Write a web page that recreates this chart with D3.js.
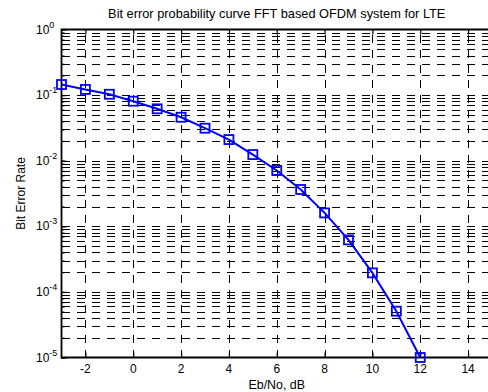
<!DOCTYPE html>
<html>
<head>
<meta charset="utf-8">
<script src="https://cdn.jsdelivr.net/npm/d3@7"></script>
<style>
  body { margin: 0; background: #fff; }
  svg { display: block; font-family: "Liberation Sans", Arial, sans-serif; }
</style>
</head>
<body>
<div id="chart"></div>
<script>
// data
var ebno = [-3, -2, -1, 0, 1, 2, 3, 4, 5, 6, 7, 8, 9, 10, 11, 12];
var ber = [0.145, 0.122, 0.103, 0.0807, 0.0618, 0.046, 0.0313, 0.021, 0.0124,
           0.0071, 0.00364, 0.0016, 0.00062, 0.000195, 0.0000508, 0.00001];
var xTicks = [-2, 0, 2, 4, 6, 8, 10, 12, 14];
var yDecades = [1e-5, 1e-4, 1e-3, 1e-2, 1e-1, 1];
var yExponents = ['-5', '-4', '-3', '-2', '-1', '0'];

var width = 488,
    height = 392,
    plotLeft = 61.5,
    plotRight = 492,
    plotTop = 29.5,
    plotBottom = 357.5;

var x = d3.scaleLinear().domain([-3, 15]).range([plotLeft, plotRight]),
    y = d3.scaleLog().domain([1e-5, 1]).range([plotBottom, plotTop]);

var yMinor = [];
yDecades.slice(0, -1).forEach(function (d) {
    for (var k = 1; k < 10; k++) yMinor.push(d * k);
});
yMinor.push(1);

var svg = d3.select('#chart').append('svg')
    .attr('width', width)
    .attr('height', height);

svg.append('rect').attr('width', width).attr('height', height).attr('fill', '#fff');

// grid
var grid = svg.append('g')
    .attr('stroke', '#000')
    .attr('stroke-width', 1)
    .attr('stroke-dasharray', '8,7')
    .attr('shape-rendering', 'crispEdges');

grid.selectAll('.hg')
    .data(yMinor.filter(function (d) { return d > 1.5e-5 && d < 0.95; }))
  .enter().append('line')
    .attr('class', 'hg')
    .attr('x1', plotLeft).attr('x2', plotRight)
    .attr('y1', function (d) { return Math.round(y(d)) + 0.5; })
    .attr('y2', function (d) { return Math.round(y(d)) + 0.5; });

grid.selectAll('.vg')
    .data(xTicks)
  .enter().append('line')
    .attr('class', 'vg')
    .attr('x1', function (d) { return Math.round(x(d)) + 0.5; })
    .attr('x2', function (d) { return Math.round(x(d)) + 0.5; })
    .attr('y1', plotBottom).attr('y2', plotTop);

// axes
var yMajorAxis = d3.axisRight(y).tickValues(yDecades).tickSize(5).tickFormat('');
var yMinorAxis = d3.axisRight(y).tickValues(yMinor).tickSize(3).tickFormat('');
var xBottom = d3.axisTop(x).tickValues(xTicks).tickSize(5).tickFormat('');
var xTop = d3.axisBottom(x).tickValues(xTicks).tickSize(5).tickFormat('');

svg.append('g').attr('transform', 'translate(' + plotLeft + ',0)').call(yMajorAxis);
svg.append('g').attr('transform', 'translate(' + plotLeft + ',0)').call(yMinorAxis);
svg.append('g').attr('transform', 'translate(0,' + plotBottom + ')').call(xBottom);
svg.append('g').attr('transform', 'translate(0,' + plotTop + ')').call(xTop);
svg.selectAll('.domain').remove();
svg.selectAll('.tick line').attr('stroke', '#000').attr('stroke-width', 1.2);

svg.append('path')
    .attr('d', 'M' + plotRight + ',' + plotTop + 'H' + plotLeft + 'V' + plotBottom + 'H' + plotRight)
    .attr('fill', 'none')
    .attr('stroke', '#000')
    .attr('stroke-width', 1.8);

// tick labels
svg.append('g').selectAll('text')
    .data(xTicks)
  .enter().append('text')
    .attr('x', function (d) { return x(d); })
    .attr('y', plotBottom + 15)
    .attr('text-anchor', 'middle')
    .attr('font-size', 12)
    .text(function (d) { return d; });

var yl = svg.append('g').selectAll('text')
    .data(yDecades)
  .enter().append('text')
    .attr('x', 36)
    .attr('y', function (d) { return y(d) + 4; })
    .attr('font-size', 12);
yl.append('tspan').text('10');
yl.append('tspan')
    .attr('dy', -6)
    .attr('font-size', 9)
    .text(function (d, i) { return yExponents[i]; });

// series
svg.append('path')
    .datum(ebno)
    .attr('fill', 'none')
    .attr('stroke', '#0000ff')
    .attr('stroke-width', 2)
    .attr('d', d3.line()
        .x(function (d) { return x(d); })
        .y(function (d, i) { return y(ber[i]); }));

svg.append('g').selectAll('rect')
    .data(ebno)
  .enter().append('rect')
    .attr('x', function (d) { return x(d) - 4.5; })
    .attr('y', function (d, i) { return y(ber[i]) - 4.5; })
    .attr('width', 9)
    .attr('height', 9)
    .attr('fill', 'none')
    .attr('stroke', '#0000ff')
    .attr('stroke-width', 1.8);

// titles
svg.append('text')
    .attr('x', (plotLeft + plotRight) / 2)
    .attr('y', 18)
    .attr('text-anchor', 'middle')
    .attr('font-size', 12.8)
    .text('Bit error probability curve FFT based OFDM system for LTE');

svg.append('text')
    .attr('x', (plotLeft + plotRight) / 2)
    .attr('y', 389)
    .attr('text-anchor', 'middle')
    .attr('font-size', 12.4)
    .text('Eb/No, dB');

svg.append('text')
    .attr('transform', 'translate(25,' + (plotTop + plotBottom) / 2 + ') rotate(-90)')
    .attr('text-anchor', 'middle')
    .attr('font-size', 12)
    .text('Bit Error Rate');
</script>
</body>
</html>
